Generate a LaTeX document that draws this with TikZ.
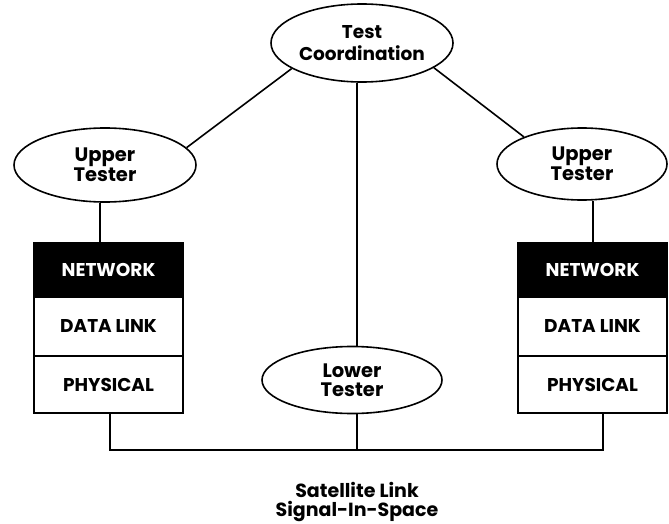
\documentclass[tikz,border=0pt]{standalone}
\usepackage{fontspec}
\setmainfont{Poppins}
\usetikzlibrary{shapes.geometric}
\begin{document}
\begin{tikzpicture}[x=1pt,y=-1pt,
  line width=1.6pt,
  oval/.style={draw,ellipse,inner sep=0pt,align=center,font=\bfseries\fontsize{19.5}{18.5}\selectfont},
  layer/.style={draw,rectangle,inner sep=0pt,minimum width=149pt,font=\bfseries\fontsize{18.5}{18}\selectfont},
  dark/.style={layer,fill=black,text=white},
  conn/.style={line width=1.6pt}]
\useasboundingbox (0,0) rectangle (669,524);
% ellipses
\node[oval,minimum width=182pt,minimum height=78pt,font=\bfseries\fontsize{18.5}{22}\selectfont] (tc) at (362,43) {Test\\Coordination};
\node[oval,minimum width=182pt,minimum height=74pt] (lut) at (105,165) {Upper\\Tester};
\node[oval,minimum width=170pt,minimum height=72pt] (rut) at (582,164) {Upper\\Tester};
\node[oval,minimum width=180pt,minimum height=67pt] (lt) at (352,380) {Lower\\Tester};
% left stack
\node[dark,minimum height=54pt] (lnet) at (108.5,270) {NETWORK};
\node[layer,minimum height=59pt] (ldl) at (108.5,326.5) {DATA LINK};
\node[layer,minimum height=57pt] (lphy) at (108.5,384.5) {PHYSICAL};
% right stack
\node[dark,minimum height=54pt] (rnet) at (592.5,270) {NETWORK};
\node[layer,minimum height=59pt] (rdl) at (592.5,326.5) {DATA LINK};
\node[layer,minimum height=57pt] (rphy) at (592.5,384.5) {PHYSICAL};
% caption
\node[align=center,inner sep=0pt,font=\bfseries\fontsize{19}{19}\selectfont] (cap) at (357,502) {Satellite Link\\Signal-In-Space};
% helper coordinates
\coordinate (cx) at (357,0);
\coordinate (lx) at (100,0);
\coordinate (rx) at (593,0);
\coordinate (busL) at (110,450);
\coordinate (busR) at (603,450);
% connectors
\draw[conn] (tc.200) -- (lut.12);
\draw[conn] (tc.-19) -- (rut.155);
\draw[conn] (tc.south -| cx) -- (lt.north -| cx);
\draw[conn] (lut.south -| lx) -- (lnet.north -| lx);
\draw[conn] (rut.south -| rx) -- (rnet.north -| rx);
\draw[conn] (lphy.south -| busL) -- (busL) -- (busR) -- (rphy.south -| busR);
\draw[conn] (lt.south -| cx) -- (busL -| cx);
\end{tikzpicture}
\end{document}
